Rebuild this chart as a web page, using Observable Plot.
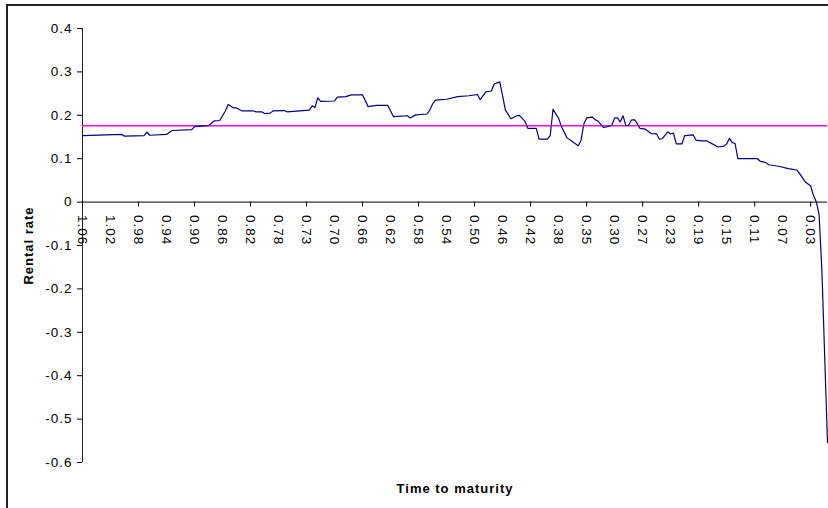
<!DOCTYPE html>
<html><head><meta charset="utf-8">
<script src="https://cdn.jsdelivr.net/npm/d3@7"></script>
<script src="https://cdn.jsdelivr.net/npm/@observablehq/plot@0.6"></script>
<style>
html,body{margin:0;padding:0;background:#fff;overflow:hidden;}
#wrap{position:relative;width:828px;height:508px;overflow:hidden;}
#frame{position:absolute;left:6px;top:4px;width:900px;height:700px;border:2px solid #222;pointer-events:none;}
#chart{position:absolute;left:0;top:0;}
#chart svg text{letter-spacing:1px;}
</style></head><body>
<div id="wrap"><div id="chart"></div><div id="frame"></div></div>
<script>
// trading-day index (category position) and rental rate
const day = [0,14,15,22,23,24,30,32,39,40,45,47,49,51,52,54,55,57,61,62,64,65,67,68,72,73,81,82,83,84,85,90,91,94,96,100,102,105,109,110,111,116,117,119,123,124,125,126,130,134,138,141,142,144,146,147,149,151,153,155,156,158,159,162,163,166,167,168,170,171,173,175,177,178,179,180,182,183,184,186,187,189,190,191,192,193,194,195,196,197,198,199,201,203,205,206,207,209,210,211,212,214,215,218,219,221,223,224,227,229,230,231,232,233,234,241,242,244,245,249,252,255,256,258,260,261,262,263,264,266];
const rate = [0.153,0.156,0.152,0.153,0.161,0.154,0.156,0.165,0.167,0.174,0.176,0.187,0.188,0.210,0.225,0.217,0.217,0.210,0.210,0.208,0.208,0.204,0.205,0.210,0.211,0.208,0.212,0.222,0.218,0.240,0.232,0.233,0.242,0.243,0.247,0.247,0.220,0.223,0.223,0.210,0.197,0.199,0.194,0.201,0.203,0.212,0.226,0.235,0.237,0.243,0.245,0.248,0.236,0.254,0.256,0.272,0.277,0.212,0.192,0.199,0.200,0.186,0.170,0.170,0.145,0.145,0.153,0.214,0.193,0.174,0.148,0.139,0.130,0.142,0.180,0.194,0.196,0.190,0.187,0.172,0.173,0.177,0.194,0.194,0.185,0.199,0.176,0.177,0.189,0.190,0.182,0.170,0.168,0.158,0.157,0.145,0.146,0.162,0.157,0.159,0.134,0.134,0.153,0.155,0.143,0.141,0.141,0.137,0.127,0.129,0.134,0.147,0.137,0.135,0.100,0.100,0.094,0.091,0.086,0.082,0.077,0.074,0.066,0.047,0.037,0.015,0.001,-0.029,-0.158,-0.554];
const lastDay = 266;
const meanRate = 0.176;
const maturityLabels = ["1.06","1.02","0.98","0.94","0.90","0.86","0.82","0.78","0.73","0.70","0.66","0.62","0.58","0.54","0.50","0.46","0.42","0.38","0.35","0.30","0.27","0.23","0.19","0.15","0.11","0.07","0.03"];
const labelStep = 10;
const yTicks = [0.4,0.3,0.2,0.1,0,-0.1,-0.2,-0.3,-0.4,-0.5,-0.6];

const series = day.map((d, i) => ({day: d, rate: rate[i]}));
const labels = maturityLabels.map((t, i) => ({day: i * labelStep, t}));
const tickDays = labels.filter((d, i) => i % 2 === 0).map(d => d.day);

const plot = Plot.plot({
  width: 828, height: 508,
  marginLeft: 82, marginRight: 1, marginTop: 28, marginBottom: 46,
  style: {fontFamily: "'Liberation Sans', Arial, sans-serif", fontSize: "13.5px", color: "#000", background: "transparent"},
  x: {domain: [0, lastDay], axis: null},
  y: {domain: [-0.6, 0.4], ticks: yTicks, tickFormat: d => String(d), tickSize: 5, tickPadding: 5, label: null},
  marks: [
    Plot.ruleX([0], {stroke: "#222"}),
    Plot.ruleY([0], {stroke: "#000"}),
    Plot.ruleX(tickDays, {x: d => d, y1: () => 0, y2: () => 0, insetBottom: -5, stroke: "#000"}),
    Plot.text(labels, {x: "day", y: () => 0, text: "t", rotate: 90, textAnchor: "start", lineAnchor: "middle", dy: 13, fill: "#000"}),
    Plot.ruleY([meanRate], {stroke: "#ff00ff", strokeWidth: 1.5}),
    Plot.line(series, {x: "day", y: "rate", stroke: "#000080", strokeWidth: 1.2}),
    Plot.text(["Rental rate"], {frameAnchor: "left", dx: -54, rotate: -90, textAnchor: "middle", lineAnchor: "middle", fontWeight: "bold", fontSize: 13, fill: "#000"}),
    Plot.text(["Time to maturity"], {frameAnchor: "bottom", dy: 26, textAnchor: "middle", lineAnchor: "middle", fontWeight: "bold", fontSize: 13, fill: "#000"})
  ]
});
document.getElementById("chart").appendChild(plot);
</script>
</body></html>
